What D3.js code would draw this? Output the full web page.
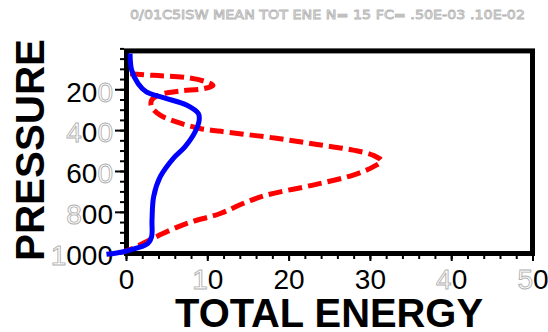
<!DOCTYPE html>
<html><head><meta charset="utf-8">
<script src="https://cdn.jsdelivr.net/npm/d3@7"></script>
<style>html,body{margin:0;padding:0;background:#fff;}svg{display:block;}</style>
</head><body>
<svg id="chart" width="548" height="332"></svg>
<script>
const titleText = "0/01C5ISW MEAN TOT ENE N= 15  FC= .50E-03  .10E-02";
const xTitle = "TOTAL ENERGY";
const yTitle = "PRESSURE";
const pressureTicks = [200, 400, 600, 800, 1000];
const pressureMinor = d3.range(0, 1001, 50);
const energyTicks = [0, 10, 20, 30, 40, 50];
const energyMinor = d3.range(0, 51, 2);

// solid blue series
const bluePressure = [25, 107, 173, 213, 241, 278, 319, 352, 409, 482, 539, 629, 726, 840, 922, 954, 978, 995, 1008];
const blueEnergy   = [0.5, 0.7, 1.5, 2.5, 4.6, 7.5, 8.9, 9.0, 8.5, 7.25, 5.8, 4.2, 3.4, 3.2, 3.15, 2.7, 1.3, -0.3, -2.4];

// dashed red series
const redPressure = [124, 132, 143, 164, 181, 197, 209, 226, 254, 287, 327, 360, 392, 410, 440, 470, 498, 523, 550, 580, 620, 669, 718, 759, 808, 856, 905, 946, 978, 995];
const redEnergy   = [0.5, 3.4, 7.5, 9.9, 10.7, 9.5, 6.6, 4.2, 3.15, 3.15, 4.2, 6.2, 9.1, 12.5, 18.5, 23.5, 27.95, 30.4, 31.4, 30.4, 27.95, 23.0, 17.3, 14.4, 11.6, 7.5, 4.6, 2.5, 0.9, -0.3];

// digits drawn hollow in the reference (style map, by label)
const hollow = {"200":[2],"400":[0,2],"600":[2],"800":[0],"1000":[0],"10":[0],"40":[0],"50":[0]};

const svg = d3.select("#chart");
const x = d3.scaleLinear().domain([0, 50]).range([126, 532.5]);
const y = d3.scaleLinear().domain([0, 1000]).range([48.4, 252.7]);

function styleLabels(sel) {
  sel.each(function(d) {
    const t = d3.select(this);
    const s = String(d);
    t.text(null);
    const h = hollow[s] || [];
    for (let i = 0; i < s.length; i++) {
      const sp = t.append("tspan").text(s[i]);
      if (h.includes(i)) sp.attr("fill", "#fff").attr("stroke", "#b0b0b0").attr("stroke-width", 0.9);
      else sp.attr("fill", "#000");
    }
  });
}

// minor ticks y
svg.append("g").attr("transform", "translate(124,0)")
  .call(d3.axisLeft(y).tickValues(pressureMinor).tickSize(4).tickFormat(""))
  .call(g => { g.select(".domain").remove(); g.selectAll("line").attr("stroke", "#000").attr("stroke-width", 2); });
// major ticks y
const gy = svg.append("g").attr("transform", "translate(124,0)")
  .call(d3.axisLeft(y).tickValues(pressureTicks).tickSize(9).tickPadding(3))
  .call(g => { g.select(".domain").remove(); g.selectAll("line").attr("stroke", "#000").attr("stroke-width", 2); });
gy.selectAll("text").attr("font-family", "Liberation Sans, Arial, sans-serif").attr("font-size", 28)
  .attr("dy", "0.42em").attr("x", -11).call(styleLabels);

// minor ticks x
svg.append("g").attr("transform", "translate(0,254)")
  .call(d3.axisBottom(x).tickValues(energyMinor).tickSize(5).tickFormat(""))
  .call(g => { g.select(".domain").remove(); g.selectAll("line").attr("stroke", "#000").attr("stroke-width", 2); });
const gx = svg.append("g").attr("transform", "translate(0,254)")
  .call(d3.axisBottom(x).tickValues(energyTicks).tickSize(7).tickPadding(3))
  .call(g => { g.select(".domain").remove(); g.selectAll("line").attr("stroke", "#000").attr("stroke-width", 2); });
gx.selectAll("text").attr("font-family", "Liberation Sans, Arial, sans-serif").attr("font-size", 28)
  .attr("dy", null).attr("y", 35).call(styleLabels);

// frame
svg.append("rect")
  .attr("x", x(0) + 0.5).attr("y", y(0) + 2.5)
  .attr("width", x(50) - x(0) - 0.5).attr("height", y(1000) - y(0) - 1.7)
  .attr("fill", "none").attr("stroke", "#000").attr("stroke-width", 5);

// series
const line = d3.line().x(d => x(d[1])).y(d => y(d[0])).curve(d3.curveCatmullRom.alpha(0.5));
svg.append("path").datum(redPressure.map((p, i) => [p, redEnergy[i]]))
  .attr("d", line).attr("fill", "none").attr("stroke", "#ff0000").attr("stroke-width", 5)
  .attr("stroke-dasharray", "14,6");
svg.append("path").datum(bluePressure.map((p, i) => [p, blueEnergy[i]]))
  .attr("d", line).attr("fill", "none").attr("stroke", "#0000ff").attr("stroke-width", 5);

// titles
svg.append("text").attr("x", 130).attr("y", 19).text(titleText)
  .attr("font-family", "DejaVu Sans, sans-serif").attr("font-size", 12)
  .attr("textLength", 395).attr("lengthAdjust", "spacingAndGlyphs")
  .attr("fill", "#fff").attr("stroke", "#b5b5b5").attr("stroke-width", 0.8);

svg.append("text").attr("x", 329).attr("y", 327).attr("text-anchor", "middle").text(xTitle)
  .attr("font-family", "Liberation Sans, Arial, sans-serif").attr("font-weight", "bold").attr("font-size", 40)
  .attr("textLength", 308).attr("lengthAdjust", "spacingAndGlyphs").attr("fill", "#000");

svg.append("text").attr("transform", "translate(44,150) rotate(-90)").attr("text-anchor", "middle").text(yTitle)
  .attr("font-family", "Liberation Sans, Arial, sans-serif").attr("font-weight", "bold").attr("font-size", 40)
  .attr("textLength", 222).attr("lengthAdjust", "spacingAndGlyphs").attr("fill", "#000");
</script>
</body></html>
